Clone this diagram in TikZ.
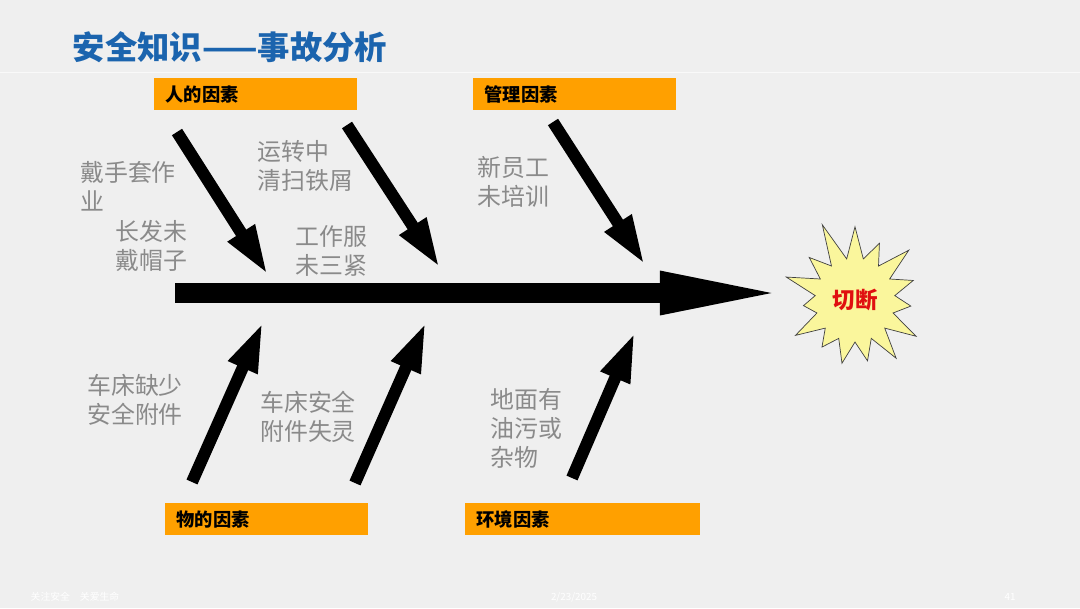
\documentclass[tikz,border=0pt]{standalone}
\usepackage{fontspec}
\setmainfont{Noto Sans CJK SC}
\usetikzlibrary{shapes,arrows.meta,positioning}

\definecolor{slideGray}{HTML}{EFEFEF}
\definecolor{titleBlue}{HTML}{1B64AE}
\definecolor{factorOrange}{HTML}{FFA000}
\definecolor{burstYellow}{HTML}{FAF69C}
\definecolor{causeGray}{HTML}{8A8A8A}
\definecolor{cutRed}{HTML}{E01010}

\begin{document}
\begin{tikzpicture}[
    x=0.025cm, y=-0.025cm,
    factor/.style={rectangle, fill=factorOrange, anchor=north west, minimum height=0.8cm, inner xsep=0.28cm, inner ysep=0pt, text width=4.5cm, align=left, font=\fontsize{13}{16}\selectfont\bfseries},
    cause/.style={anchor=north west, align=left, text=causeGray, inner sep=0pt, font=\fontsize{17}{20.6}\selectfont},
    bone/.style={line width=0.3cm, -{Triangle[length=1.25cm, width=0.72cm]}},
    spine/.style={line width=0.5cm, -{Triangle[length=3.25cm, width=0.95cm]}},
    footer/.style={text=white, font=\fontsize{7}{8}\selectfont}
]

% Slide background
\fill[slideGray] (0,0) rectangle (1080,608);
\useasboundingbox (0,0) rectangle (1080,608);
\draw[white!60!slideGray, line width=0.6pt] (0,72) -- (1080,72);

% Title
\node[anchor=west, text=titleBlue, font=\fontsize{23}{27}\selectfont\bfseries] (title) at (68,47) {安全知识——事故分析};

% Factor boxes
\node[factor] (humanFactor) at (154,78) {人的因素};
\node[factor] (managementFactor) at (473,78) {管理因素};
\node[factor] (materialFactor) at (165,503) {物的因素};
\node[factor, text width=5.3cm] (environmentFactor) at (465,503) {环境因素};

% Causes
\node[cause] (gloveCause) at (80,161) {戴手套作\\业};
\node[cause] (hairCause) at (115,220) {长发未\\戴帽子};
\node[cause] (sweepCause) at (257,140) {运转中\\清扫铁屑};
\node[cause] (clothCause) at (295,225) {工作服\\未三紧};
\node[cause] (trainCause) at (477,156) {新员工\\未培训};
\node[cause] (lackCause) at (87,374) {车床缺少\\安全附件};
\node[cause] (failCause) at (260,391) {车床安全\\附件失灵};
\node[cause] (floorCause) at (490,388) {地面有\\油污或\\杂物};

% Result
\node[shape=starburst, starburst points=15, starburst point height=1.05cm, random starburst=11, fill=burstYellow, draw=black!75, line width=0.5pt, minimum width=4.1cm, minimum height=4.2cm, text=cutRed, font=\fontsize{16}{18}\selectfont\bfseries] (burst) at (855,300) {切断};

% Spine
\coordinate (spineTail) at (175,293);
\coordinate (spineTip) at (790,293);
\draw[spine] (spineTail) -- (spineTip);

% Bones
\coordinate (boneA1) at (177,132); \coordinate (boneA2) at (268,275);
\coordinate (boneB1) at (347,125); \coordinate (boneB2) at (440,268);
\coordinate (boneC1) at (553,122); \coordinate (boneC2) at (645,265);
\coordinate (boneD1) at (192,482); \coordinate (boneD2) at (263,322);
\coordinate (boneE1) at (355,483); \coordinate (boneE2) at (426,322);
\coordinate (boneF1) at (572,478); \coordinate (boneF2) at (635,332);
\foreach \b in {A,B,C,D,E,F}
  \draw[bone] (bone\b1) -- (bone\b2);

% Footer
\node[footer] (footLeft) at (75,597) {关注安全\quad 关爱生命};
\node[footer] (footDate) at (574,597) {2/23/2025};
\node[footer] (footPage) at (1010,597) {41};

\end{tikzpicture}
\end{document}
